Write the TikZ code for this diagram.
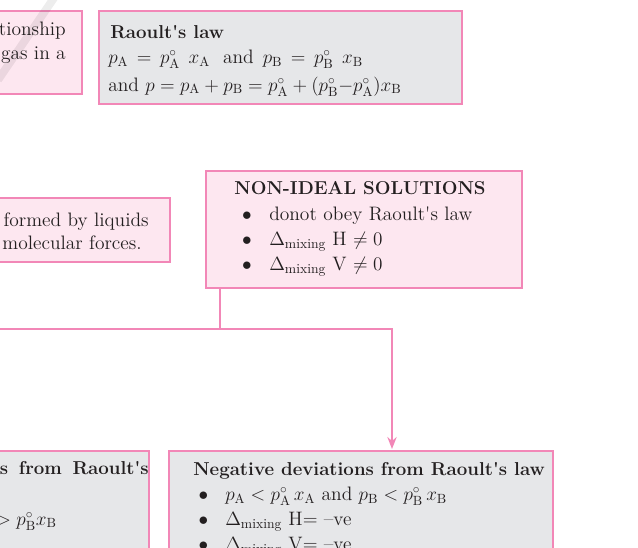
\documentclass[tikz,border=0pt]{standalone}
\usepackage{amsmath}
\usepackage{xcolor}
\usetikzlibrary{arrows.meta,positioning}
\definecolor{cpink}{HTML}{F287B7}
\definecolor{cpinkbg}{HTML}{FDE7F0}
\definecolor{cgraybg}{HTML}{E6E7E9}
\definecolor{cink}{HTML}{231F20}
\tikzset{
  box/.style={draw=cpink,line width=1.5pt,inner sep=0pt,anchor=north west},
  pinkbox/.style={box,fill=cpinkbg},
  graybox/.style={box,fill=cgraybg},
  txt/.style={anchor=base west,inner sep=0pt,text=cink,font=\fontsize{14.6}{17}\selectfont},
  head/.style={txt,font=\fontsize{14}{17}\selectfont\bfseries},
  dot/.style={txt,anchor=base},
  link/.style={draw=cpink,line width=1.5pt},
}
\newcommand{\sub}[1]{_{\mathrm{#1}}}
\newcommand{\mix}{$\Delta_{\text{mixing}}$}
\newcommand{\rlt}{Raoult\textquotesingle s}

\begin{document}
\begin{tikzpicture}[x=0.75pt,y=-0.75pt]
\useasboundingbox (0,0) rectangle (638,547);

% ================= TOP ROW =================
\node[pinkbox,minimum width=90.75pt,minimum height=62.25pt] (gas) at (-40,10) {};
\node[txt,anchor=base east] (gas1) at (66,35) {tionship};
\node[txt,anchor=base east] (gas2) at (66,59.5) {gas in a};

\node[graybox,minimum width=272.25pt,minimum height=70.1pt] (rl) at (97.5,10) {};
\node[head] (rlh) at (110,38.5) {\rlt\ law};
\node[txt] (rl1) at (108,63.5) {$p\sub A \,=\, p^\circ\sub A\;\, x\sub A$\hspace{5pt} and\hspace{2pt} $p\sub B \,=\, p^\circ\sub B\;\, x\sub B$};
\node[txt] (rl2) at (108,91) {and $p = p\sub A + p\sub B = p^\circ\sub A + (p^\circ\sub B{-}p^\circ\sub A)x\sub B$};

% ================= MIDDLE ROW =================
\node[pinkbox,minimum width=156.75pt,minimum height=48pt] (ids) at (-40,197) {};
\node[txt,anchor=base east] (ids1) at (149,226.7) {formed by liquids};
\node[txt,anchor=base east] (ids2) at (142,249.3) {molecular forces.};

\node[pinkbox,minimum width=237pt,minimum height=87.75pt] (nid) at (205,170) {};
\node[head,anchor=base] (nidh) at (360,194.3) {NON-IDEAL SOLUTIONS};
\foreach \y/\t [count=\i] in {220/{donot obey \rlt\ law},245.5/{\mix\ H $\neq 0$},270.5/{\mix\ V $\neq 0$}}{
  \node[dot] (nidb\i) at (247,\y) {$\bullet$};
  \node[txt] (nidt\i) at (269,\y) {\t};
}

% ================= BOTTOM ROW =================
\node[graybox,minimum width=141pt,minimum height=97.5pt] (pos) at (-40,450) {};
\node[head,anchor=base east] (posh) at (149,474.3) {s\hspace{8pt}from\hspace{8pt}\rlt};
\node[txt,anchor=base east] (pos1) at (57,525) {$> p\sub B^\circ x\sub B$};

\node[graybox,minimum width=288pt,minimum height=97.5pt] (neg) at (168,450) {};
\node[head] (negh) at (193,475) {Negative deviations from \rlt\ law};
\foreach \y/\t [count=\i] in {500.5/{$p\sub A < p^\circ\sub A\, x\sub A$ and $p\sub B < p^\circ\sub B\, x\sub B$},525.5/{\mix\ H= --ve},550.5/{\mix\ V= --ve}}{
  \node[dot] (negb\i) at (203.5,\y) {$\bullet$};
  \node[txt] (negt\i) at (225,\y) {\t};
}

% ================= CONNECTORS =================
\coordinate (jn) at (220,329);
\coordinate (lft) at (-5,329);
\coordinate (tip) at (392,449);
\draw[link] (nid.south -| jn) -- (jn);
\draw[link] (lft) -- (jn);
\draw[link,-{Stealth[length=9pt,width=7pt,inset=3pt]}] (jn) -| (tip);

% watermark trace
\draw[line width=6pt,black,opacity=0.07] (56,-5) -- (-2,80);
\end{tikzpicture}
\end{document}
